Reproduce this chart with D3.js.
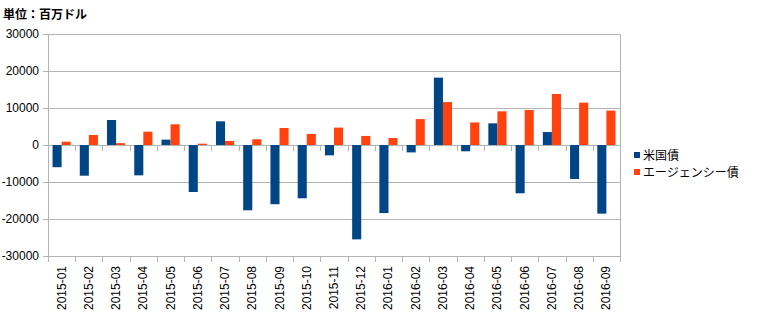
<!DOCTYPE html>
<html>
<head>
<meta charset="utf-8">
<script src="https://cdn.jsdelivr.net/npm/d3@7"></script>
<style>
  body { margin: 0; background: #fff; }
  text { font-family: "Liberation Sans", Arial, sans-serif; }
  .jp { font-family: "Noto Sans CJK JP", sans-serif; }
</style>
</head>
<body>
<div id="chart"></div>
<script>
// data
var months = ["2015-01", "2015-02", "2015-03", "2015-04", "2015-05", "2015-06", "2015-07",
              "2015-08", "2015-09", "2015-10", "2015-11", "2015-12", "2016-01", "2016-02",
              "2016-03", "2016-04", "2016-05", "2016-06", "2016-07", "2016-08", "2016-09"];
var treasury = [-6000, -8300, 6750, -8200, 1450, -12700, 6400, -17650, -16000, -14400, -2800,
                -25500, -18400, -2000, 18200, -1700, 5850, -13050, 3500, -9200, -18550];
var agency = [900, 2700, 500, 3600, 5600, 350, 1100, 1550, 4600, 3000, 4700,
              2450, 1900, 7000, 11600, 6100, 9100, 9450, 13800, 11450, 9300];
var seriesNames = ["米国債", "エージェンシー債"];
var yTicks = [-30000, -20000, -10000, 0, 10000, 20000, 30000];
var colors = ["#004586", "#ff420e"];

var width = 760, height = 324;
var plotLeft = 48, plotRight = 620, plotTop = 34, plotBottom = 256;

var svg = d3.select("#chart").append("svg")
  .attr("width", width)
  .attr("height", height);

svg.append("text")
  .attr("class", "jp")
  .attr("x", 3)
  .attr("y", 19)
  .style("font-size", "12px")
  .style("font-weight", "bold")
  .text("単位：百万ドル");

var x = d3.scaleBand().domain(months).range([plotLeft, plotRight])
  .paddingInner(1/3).paddingOuter(1/6);
var x1 = d3.scaleBand().domain([0, 1]).range([0, x.bandwidth()]);
var y = d3.scaleLinear().domain([-30000, 30000]).range([plotBottom, plotTop]);

// grid
svg.append("g").selectAll("line").data(yTicks).enter().append("line")
  .attr("x1", plotLeft - 5).attr("x2", plotRight)
  .attr("y1", function(d) { return Math.round(y(d)) + 0.5; })
  .attr("y2", function(d) { return Math.round(y(d)) + 0.5; })
  .attr("stroke", "#b3b3b3");

svg.append("line")
  .attr("x1", plotLeft + 0.5).attr("x2", plotLeft + 0.5)
  .attr("y1", plotTop).attr("y2", plotBottom + 6)
  .attr("stroke", "#b3b3b3");
svg.append("line")
  .attr("x1", plotRight + 0.5).attr("x2", plotRight + 0.5)
  .attr("y1", plotTop).attr("y2", plotBottom + 6)
  .attr("stroke", "#b3b3b3");

// y labels
svg.append("g").selectAll("text").data(yTicks).enter().append("text")
  .attr("x", 39)
  .attr("y", function(d) { return y(d) + 4; })
  .attr("text-anchor", "end")
  .style("font-size", "12px")
  .text(function(d) { return d; });

// category ticks, at zero and at the bottom
var step = x.step();
var bounds = d3.range(months.length + 1).map(function(i) { return plotLeft + i * step; });
[y(0), plotBottom].forEach(function(yy) {
  svg.append("g").selectAll("line").data(bounds).enter().append("line")
    .attr("x1", function(d) { return Math.round(d) + 0.5; })
    .attr("x2", function(d) { return Math.round(d) + 0.5; })
    .attr("y1", yy).attr("y2", yy + 6)
    .attr("stroke", "#b3b3b3");
});

// bars
[treasury, agency].forEach(function(values, s) {
  svg.append("g").selectAll("rect").data(values).enter().append("rect")
    .attr("x", function(d, i) { return x(months[i]) + x1(s); })
    .attr("width", x1.bandwidth())
    .attr("y", function(d) { return y(Math.max(0, d)); })
    .attr("height", function(d) { return Math.abs(y(d) - y(0)); })
    .attr("fill", colors[s]);
});

// x labels
svg.append("g").selectAll("text").data(months).enter().append("text")
  .attr("transform", function(d) {
    return "translate(" + (x(d) + x.bandwidth() / 2 + 4) + "," + (plotBottom + 10) + ") rotate(-90)";
  })
  .attr("text-anchor", "end")
  .style("font-size", "12px")
  .text(function(d) { return d; });

// legend
var legend = svg.append("g");
seriesNames.forEach(function(name, i) {
  legend.append("rect")
    .attr("x", 634).attr("y", 152 + i * 17)
    .attr("width", 6).attr("height", 6)
    .attr("fill", colors[i]);
  legend.append("text")
    .attr("class", "jp")
    .attr("x", 643).attr("y", 159.5 + i * 17)
    .style("font-size", "12px")
    .text(name);
});
</script>
</body>
</html>
